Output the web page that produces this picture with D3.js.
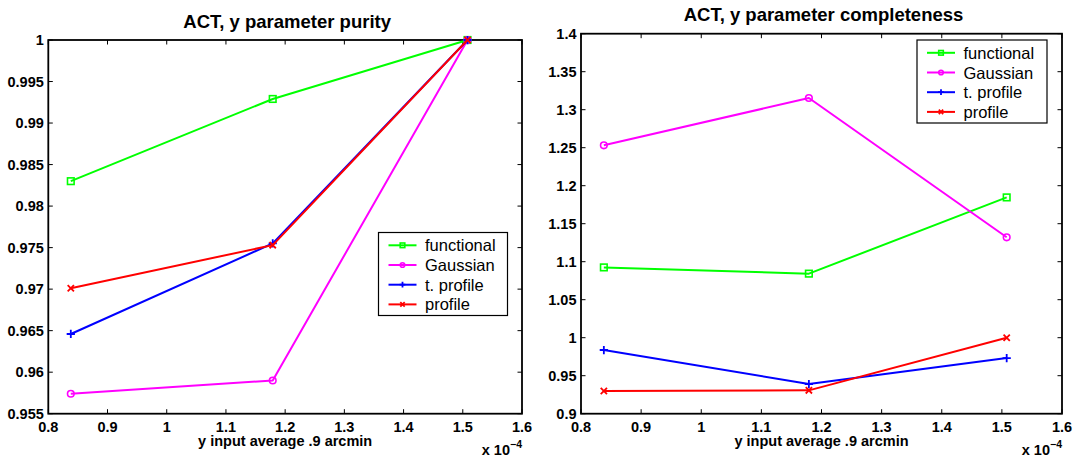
<!DOCTYPE html>
<html>
<head>
<meta charset="utf-8">
<script src="https://cdn.jsdelivr.net/npm/d3@7"></script>
<style>
  html, body { margin: 0; padding: 0; background: #fff; }
  svg { display: block; }
  text { font-family: "Liberation Sans", Arial, Helvetica, sans-serif; }
</style>
</head>
<body>
<svg id="chart" width="1078" height="457"></svg>
<script>
// ---------------- data ----------------
const seriesNames = ["functional", "Gaussian", "t. profile", "profile"];
const seriesColors = ["#00ff00", "#ff00ff", "#0000ff", "#ff0000"];
const seriesMarkers = ["square", "circle", "plus", "cross"];

// x values in units of 1e-4
const xValues = [0.838, 1.179, 1.508];

// left panel: purity
const purityFunctional = [0.9830, 0.9929, 1.0000];
const purityGaussian   = [0.9574, 0.9590, 1.0000];
const purityTProfile   = [0.9646, 0.9755, 1.0000];
const purityProfile    = [0.9701, 0.9753, 1.0000];

// right panel: completeness
const complFunctional = [1.0925, 1.0843, 1.1846];
const complGaussian   = [1.2531, 1.3154, 1.1321];
const complTProfile   = [0.9838, 0.9390, 0.9732];
const complProfile    = [0.9298, 0.9307, 1.0000];

// ticks
const xTicks = [0.8, 0.9, 1.0, 1.1, 1.2, 1.3, 1.4, 1.5, 1.6];
const xTickLabels = ["0.8", "0.9", "1", "1.1", "1.2", "1.3", "1.4", "1.5", "1.6"];
const purityTicks = [0.955, 0.96, 0.965, 0.97, 0.975, 0.98, 0.985, 0.99, 0.995, 1.0];
const purityTickLabels = ["0.955", "0.96", "0.965", "0.97", "0.975", "0.98", "0.985", "0.99", "0.995", "1"];
const complTicks = [0.9, 0.95, 1.0, 1.05, 1.1, 1.15, 1.2, 1.25, 1.3, 1.35, 1.4];
const complTickLabels = ["0.9", "0.95", "1", "1.05", "1.1", "1.15", "1.2", "1.25", "1.3", "1.35", "1.4"];

const titles = ["ACT, y parameter purity", "ACT, y parameter completeness"];
const xLabel = "y input average .9 arcmin";
const xExponent = "\u22124";

// ---------------- drawing ----------------
const svg = d3.select("#chart");

function drawMarker(g, type, x, y, color, s) {
  if (type === "square") {
    g.append("rect").attr("x", x - s).attr("y", y - s).attr("width", 2 * s).attr("height", 2 * s)
      .attr("fill", "none").attr("stroke", color).attr("stroke-width", 1.6);
  } else if (type === "circle") {
    g.append("circle").attr("cx", x).attr("cy", y).attr("r", s)
      .attr("fill", "none").attr("stroke", color).attr("stroke-width", 1.6);
  } else if (type === "plus") {
    const p = s * 1.25;
    g.append("path").attr("d", `M${x - p},${y}H${x + p}M${x},${y - p}V${y + p}`)
      .attr("stroke", color).attr("stroke-width", 1.8).attr("fill", "none");
  } else if (type === "cross") {
    const p = s * 0.95;
    g.append("path").attr("d", `M${x - p},${y - p}L${x + p},${y + p}M${x - p},${y + p}L${x + p},${y - p}`)
      .attr("stroke", color).attr("stroke-width", 1.8).attr("fill", "none");
  }
}

function panel(cfg) {
  const g = svg.append("g");
  const x = d3.scaleLinear().domain([0.8, 1.6]).range([cfg.left, cfg.right]);
  const y = d3.scaleLinear().domain(cfg.yDomain).range([cfg.bottom, cfg.top]);
  const tl = 4.5;

  // ticks on all four sides (inward)
  const tickG = g.append("g").attr("stroke", "#000").attr("stroke-width", 1);
  xTicks.forEach(t => {
    const px = x(t);
    tickG.append("line").attr("x1", px).attr("x2", px).attr("y1", cfg.bottom).attr("y2", cfg.bottom - tl);
    tickG.append("line").attr("x1", px).attr("x2", px).attr("y1", cfg.top).attr("y2", cfg.top + tl);
  });
  cfg.yTicks.forEach(t => {
    const py = y(t);
    tickG.append("line").attr("x1", cfg.left).attr("x2", cfg.left + tl).attr("y1", py).attr("y2", py);
    tickG.append("line").attr("x1", cfg.right).attr("x2", cfg.right - tl).attr("y1", py).attr("y2", py);
  });

  // frame
  g.append("rect").attr("x", cfg.left).attr("y", cfg.top)
    .attr("width", cfg.right - cfg.left).attr("height", cfg.bottom - cfg.top)
    .attr("fill", "none").attr("stroke", "#000").attr("stroke-width", 1.8);

  // tick labels
  xTicks.forEach((t, i) => {
    g.append("text").attr("x", x(t)).attr("y", cfg.bottom + 18.2)
      .attr("text-anchor", "middle").attr("font-size", 14.5).attr("font-weight", "bold")
      .text(xTickLabels[i]);
  });
  cfg.yTicks.forEach((t, i) => {
    g.append("text").attr("x", cfg.left - 4.5).attr("y", y(t) + 5.1)
      .attr("text-anchor", "end").attr("font-size", 14.5).attr("font-weight", "bold")
      .text(cfg.yTickLabels[i]);
  });

  // title
  g.append("text").attr("x", (cfg.left + cfg.right) / 2 + 2).attr("y", cfg.top - 12.5)
    .attr("text-anchor", "middle").attr("font-size", 18.5).attr("font-weight", "bold")
    .text(cfg.title);

  // x label
  g.append("text").attr("x", (cfg.left + cfg.right) / 2).attr("y", cfg.bottom + 32.5)
    .attr("text-anchor", "middle").attr("font-size", 14.5).attr("font-weight", "bold")
    .text(xLabel);

  // exponent
  const ex = g.append("text").attr("x", cfg.right).attr("y", cfg.bottom + 41.5)
    .attr("text-anchor", "end").attr("font-size", 14.5).attr("font-weight", "bold");
  ex.append("tspan").text("x 10");
  ex.append("tspan").attr("dy", -7).attr("font-size", 10.5).text(xExponent);

  // series
  const line = d3.line().x((d, i) => x(xValues[i])).y(d => y(d));
  cfg.series.forEach((vals, si) => {
    const sg = g.append("g");
    sg.append("path").attr("d", line(vals)).attr("fill", "none")
      .attr("stroke", seriesColors[si]).attr("stroke-width", 2).attr("stroke-linejoin", "round");
    vals.forEach((v, i) => drawMarker(sg, seriesMarkers[si], x(xValues[i]), y(v), seriesColors[si], 3.3));
  });

  // legend
  const lg = g.append("g");
  lg.append("rect").attr("x", cfg.legend.x).attr("y", cfg.legend.y)
    .attr("width", cfg.legend.w).attr("height", cfg.legend.h)
    .attr("fill", "#fff").attr("stroke", "#000").attr("stroke-width", 1.2);
  seriesNames.forEach((name, si) => {
    const ry = cfg.legend.y + 12.8 + si * 19.7;
    const x0 = cfg.legend.x + 10, x1 = cfg.legend.x + 38;
    lg.append("line").attr("x1", x0).attr("x2", x1).attr("y1", ry).attr("y2", ry)
      .attr("stroke", seriesColors[si]).attr("stroke-width", 2);
    drawMarker(lg, seriesMarkers[si], (x0 + x1) / 2, ry, seriesColors[si], 2.3);
    lg.append("text").attr("x", cfg.legend.x + 46.5).attr("y", ry + 6)
      .attr("font-size", 16.5).text(name);
  });
}

panel({
  left: 48.3, right: 522, top: 40, bottom: 413.7,
  yDomain: [0.955, 1.0], yTicks: purityTicks, yTickLabels: purityTickLabels,
  title: titles[0],
  series: [purityFunctional, purityGaussian, purityTProfile, purityProfile],
  legend: { x: 378.5, y: 232.5, w: 129, h: 83 }
});

panel({
  left: 581, right: 1062, top: 33.7, bottom: 413.7,
  yDomain: [0.9, 1.4], yTicks: complTicks, yTickLabels: complTickLabels,
  title: titles[1],
  series: [complFunctional, complGaussian, complTProfile, complProfile],
  legend: { x: 917, y: 40, w: 130, h: 83 }
});
</script>
</body>
</html>
